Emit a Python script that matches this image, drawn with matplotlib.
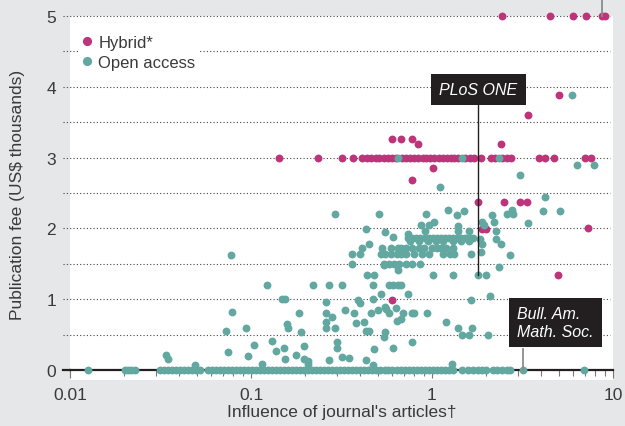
import matplotlib.pyplot as plt
from matplotlib.lines import Line2D
from matplotlib.ticker import FixedLocator, LogLocator, NullFormatter

# =======================
# Data
# influence (x, log scale) vs publication fee in US$ thousands (y)
# =======================

# Hybrid journals
hyb_fee5_x = [2.45, 4.5, 6.0, 7.05, 8.65, 9.0]
hyb_fee3_x = [0.143, 0.235, 0.32, 0.365, 0.41, 0.44, 0.46, 0.49, 0.51, 0.54,
              0.57, 0.60, 0.63, 0.68, 0.72, 0.76, 0.80, 0.84, 0.89, 0.93,
              0.98, 1.03, 1.09, 1.15, 1.21, 1.27, 1.33, 1.40, 1.53, 1.62,
              1.71, 1.86, 2.11, 2.22, 2.45, 2.59, 2.73, 3.9, 4.22, 4.75,
              7.0, 7.6]
hyb_other_x = [5.0, 3.37, 0.60, 0.67, 0.78, 0.84, 2.40, 1.01, 0.78,
               1.8, 2.5, 3.05, 3.35, 1.9, 2.0, 7.3, 4.95, 0.6]
hyb_other_y = [3.89, 3.6, 3.26, 3.26, 3.26, 3.19, 3.19, 2.85, 2.69,
               2.37, 2.37, 2.38, 2.37, 1.99, 1.99, 2.0, 1.34, 0.99]

# Open access journals
oa_free_x = [0.0126, 0.0201, 0.0209, 0.0217, 0.0229,
             0.0315, 0.0331, 0.0348, 0.0366, 0.0385, 0.0406, 0.0427, 0.0449,
             0.0473, 0.0497, 0.0524, 0.058, 0.061, 0.0642, 0.0675, 0.071,
             0.075, 0.079, 0.083, 0.087, 0.0915, 0.0963, 0.101, 0.107, 0.112,
             0.118, 0.124, 0.131, 0.137, 0.145, 0.152, 0.160, 0.169, 0.178,
             0.187, 0.197, 0.207, 0.218, 0.229, 0.241, 0.254, 0.267, 0.281,
             0.296, 0.311, 0.328, 0.345, 0.363, 0.382, 0.402, 0.423, 0.445,
             0.469, 0.493, 0.519, 0.547, 0.575, 0.605, 0.637, 0.671, 0.706,
             0.743, 0.782, 0.823, 0.866, 0.911, 0.959, 1.01, 1.06, 1.12,
             1.18, 1.24, 1.30, 1.47, 1.58, 1.68, 1.79, 1.89, 2.0, 2.17,
             2.3, 2.45, 2.6, 2.7, 3.2, 6.9]
oa_row187_x = [0.74, 0.78, 0.82, 0.86, 0.91, 0.96, 1.01, 1.06, 1.12, 1.18,
               1.24, 1.30, 1.37, 1.44, 1.52, 1.60, 1.68]
oa_row182_x = [0.76, 0.85, 0.95, 1.05, 1.15, 1.3, 1.45, 1.6]
oa_row172_x = [0.53, 0.59, 0.65, 0.67, 0.72, 0.78, 0.85, 0.9, 1.0, 1.06,
               1.12, 1.2, 1.3]
oa_row164_x = [0.36, 0.40, 0.52, 0.55, 0.59, 0.64, 0.67, 0.72, 0.8, 0.88,
               0.96, 1.15, 1.25, 1.32, 1.65]
oa_row150_x = [0.36, 0.54, 0.58, 0.62, 0.66, 0.72, 0.78, 0.86]
oa_row120_x = [0.123, 0.22, 0.27, 0.32, 0.47, 0.58, 0.61, 0.65, 0.67]
oa_other_x = [0.65, 1.47, 2.35, 5.9, 1.11, 3.05, 6.3, 7.9, 4.2,
              0.29, 0.51, 0.93, 1.23, 1.37, 1.5, 2.15, 2.6, 2.75, 2.8, 4.1,
              5.1, 3.4, 2.2, 1.9, 1.95,
              0.43, 0.55, 0.61, 0.74, 0.87, 0.91, 0.96, 1.03, 1.4, 1.4, 1.6,
              2.25, 2.25, 2.4, 2.7, 2.35, 1.85, 1.9, 1.87,
              0.41, 0.45, 0.078,
              0.54, 0.64, 0.65,
              0.44, 0.48, 1.01, 1.30, 1.8, 2.0,
              0.148, 0.155, 0.26, 0.39, 0.40, 0.47, 0.52, 0.74, 1.65, 2.1,
              0.079, 0.185, 0.26, 0.28, 0.33, 0.37, 0.46, 0.5, 0.55, 0.56,
              0.58, 0.63, 0.69, 0.78, 0.8, 0.94,
              0.073, 0.094, 0.158, 0.16, 0.26, 0.26, 0.29, 0.38, 0.42, 0.64,
              0.67, 1.2, 1.4, 1.67,
              0.19, 0.43, 0.45, 0.55, 0.54, 1.47, 1.6, 2.05,
              0.104, 0.131, 0.137, 0.152, 0.197, 0.30, 0.30, 0.48, 0.61, 0.78,
              0.075, 0.034, 0.035, 0.096, 0.155, 0.178, 0.197, 0.207, 0.27,
              0.32, 0.35, 0.43, 0.47, 0.049, 0.115, 0.207, 1.29]
oa_other_y = [3.0, 3.0, 3.0, 3.89, 2.58, 2.75, 2.89, 2.89, 2.45,
              2.2, 2.2, 2.2, 2.26, 2.19, 2.24, 2.19, 2.2, 2.26, 2.2, 2.24,
              2.24, 2.07, 2.09, 2.09, 2.05,
              1.99, 1.95, 1.88, 1.92, 2.05, 1.96, 2.05, 2.09, 2.03, 1.97, 1.96,
              1.96, 1.85, 1.78, 1.62, 1.45, 1.85, 1.78, 1.66,
              1.72, 1.78, 1.62,
              1.48, 1.48, 1.41,
              1.34, 1.34, 1.34, 1.34, 1.34, 1.34,
              1.0, 1.0, 0.96, 0.99, 0.95, 1.0, 1.07, 1.07, 0.99, 1.05,
              0.82, 0.8, 0.8, 0.75, 0.85, 0.8, 0.8, 0.85, 0.89, 0.86,
              0.8, 0.87, 0.8, 0.8, 0.8, 0.8,
              0.55, 0.6, 0.65, 0.6, 0.68, 0.6, 0.6, 0.66, 0.68, 0.69,
              0.72, 0.68, 0.6, 0.6,
              0.53, 0.55, 0.55, 0.53, 0.47, 0.5, 0.5, 0.5,
              0.35, 0.41, 0.27, 0.31, 0.34, 0.4, 0.31, 0.3, 0.31, 0.4,
              0.25, 0.21, 0.16, 0.2, 0.16, 0.21, 0.16, 0.13, 0.14,
              0.18, 0.17, 0.14, 0.07, 0.07, 0.08, 0.08, 0.08]

y_ticks = [0, 1, 2, 3, 4, 5]
x_ticks = [0.01, 0.1, 1, 10]
x_ticklabels = ["0.01", "0.1", "1", "10"]

# =======================
# Styling
# =======================
HYB_COLOR = "#be347a"
OA_COLOR = "#62a8a0"
TEXT_COLOR = "#3a3a3a"
BOX_COLOR = "#231f20"
BG_COLOR = "#e6e7e8"

plt.rcParams['font.family'] = ['Liberation Sans', 'DejaVu Sans']

hx = hyb_fee5_x + hyb_fee3_x + hyb_other_x
hy = [5.0] * len(hyb_fee5_x) + [3.0] * len(hyb_fee3_x) + hyb_other_y

ox = (oa_free_x + oa_row187_x + oa_row182_x + oa_row172_x + oa_row164_x
      + oa_row150_x + oa_row120_x + oa_other_x)
oy = ([0.0] * len(oa_free_x) + [1.87] * len(oa_row187_x)
      + [1.82] * len(oa_row182_x) + [1.72] * len(oa_row172_x)
      + [1.64] * len(oa_row164_x) + [1.5] * len(oa_row150_x)
      + [1.2] * len(oa_row120_x) + oa_other_y)

fig = plt.figure(figsize=(6.25, 4.27), dpi=100, facecolor=BG_COLOR)
ax = fig.add_axes([70 / 625, 1 - 381 / 427, 543 / 625, 364 / 427])
ax.set_facecolor("white")

ax.set_xscale("log")
ax.set_xlim(0.01, 10)
ax.set_ylim(-0.141, 5)

# dotted gridlines every 0.5, sticking out a bit on the left
for v in [0.5, 1, 1.5, 2, 2.5, 3, 3.5, 4, 4.5, 5]:
    ax.plot([-0.013, 0.995], [v, v], transform=ax.get_yaxis_transform(),
            ls=(0, (1, 2)), lw=0.8, color="#444444", clip_on=False, zorder=0.5)

# zero axis line
for side in ["top", "right", "left"]:
    ax.spines[side].set_visible(False)
ax.spines["bottom"].set_position(("data", 0))
ax.spines["bottom"].set_color(BOX_COLOR)
ax.spines["bottom"].set_linewidth(1.6)
ax.plot([-0.013, 0], [0, 0], transform=ax.get_yaxis_transform(),
        color=BOX_COLOR, lw=1.6, clip_on=False, zorder=2.5)

ax.scatter(hx, hy, s=32, color=HYB_COLOR, linewidths=0, zorder=3, clip_on=False)
ax.scatter(ox, oy, s=32, color=OA_COLOR, linewidths=0, zorder=3.1, clip_on=False)

# ticks
ax.xaxis.set_major_locator(FixedLocator(x_ticks))
ax.set_xticklabels(x_ticklabels)
ax.xaxis.set_minor_locator(LogLocator(base=10, subs=[2, 3, 4, 5, 6, 7, 8, 9]))
ax.xaxis.set_minor_formatter(NullFormatter())
ax.tick_params(axis="x", which="major", length=5.5, width=0.8, color="#777777",
               pad=7, labelsize=12.5, labelcolor=TEXT_COLOR)
ax.tick_params(axis="x", which="minor", length=4, width=0.8, color="#777777")
ax.set_yticks(y_ticks)
ax.tick_params(axis="y", length=0, pad=10, labelsize=12.5, labelcolor=TEXT_COLOR)

ax.set_xlabel("Influence of journal's articles\u2020", fontsize=12.5,
              color=TEXT_COLOR, labelpad=1)
fig.text(18 / 625, 1 - 195 / 427, "Publication fee (US$ thousands)",
         rotation=90, ha="center", va="center", fontsize=12.5, color=TEXT_COLOR)

# legend
handles = [Line2D([], [], marker="o", ls="", color=HYB_COLOR, markersize=5.6),
           Line2D([], [], marker="o", ls="", color=OA_COLOR, markersize=5.6)]
leg = ax.legend(handles, ["Hybrid*", "Open access"], loc="upper left",
                bbox_to_anchor=(0.015, 0.962), frameon=True, facecolor="white",
                edgecolor="none", framealpha=1, fancybox=False, borderpad=0.3,
                handlelength=0.5, handletextpad=0.4, labelspacing=0.3,
                fontsize=12, borderaxespad=0, labelcolor=TEXT_COLOR)
leg.set_zorder(5)

# annotations
ax.plot([1.8, 1.8], [1.34, 3.8], color=BOX_COLOR, lw=1, zorder=4)
ax.text(1.8, 3.96, "PLoS ONE", ha="center", va="center", style="italic",
        fontsize=11.5, color="white", zorder=6,
        bbox=dict(facecolor=BOX_COLOR, edgecolor="none", boxstyle="square,pad=0.52"))

ax.plot([3.2, 3.2], [0, 0.3], color="#8c8c8c", lw=1.3, zorder=4)
ax.text(4.8, 0.67, "Bull. Am.\nMath. Soc.", ha="center", va="center",
        multialignment="left", style="italic", fontsize=11.5, color="white",
        zorder=6, linespacing=1.2,
        bbox=dict(facecolor=BOX_COLOR, edgecolor="none", boxstyle="square,pad=0.52"))

ax.plot([8.65, 8.65], [5, 5.3], color="#8c8c8c", lw=1.3, clip_on=False, zorder=4)

fig.savefig("out.png", dpi=100, facecolor=BG_COLOR)
